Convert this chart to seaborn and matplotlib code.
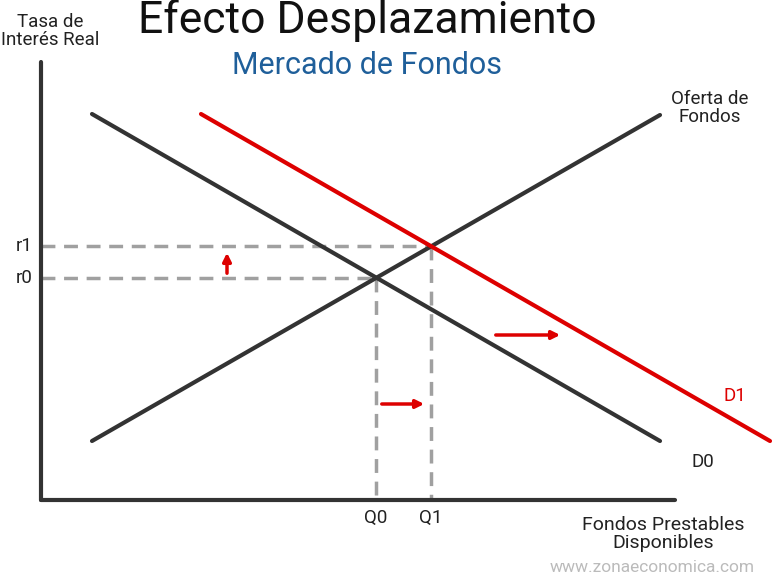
import numpy as np
import pandas as pd
import seaborn as sns
import matplotlib.pyplot as plt

sns.set_style("white")
plt.rcParams['font.family'] = ['Roboto', 'DejaVu Sans']

# curve endpoints (pixel-like diagram coordinates)
oferta_x = [92, 660]
oferta_y = [441, 115]
d0_x = [92, 660]
d0_y = [114, 441]
d1_x = [201, 770]
d1_y = [114, 441]

r_levels = [278, 246]      # r0, r1
r_labels = ['r0', 'r1']
q_levels = [376, 431]      # Q0, Q1
q_labels = ['Q0', 'Q1']

axis_origin = (41, 500)
axis_top = 62
axis_right = 675

df = pd.concat([
    pd.DataFrame({'x': oferta_x, 'y': oferta_y, 'curva': 'Oferta'}),
    pd.DataFrame({'x': d0_x, 'y': d0_y, 'curva': 'D0'}),
    pd.DataFrame({'x': d1_x, 'y': d1_y, 'curva': 'D1'}),
])

fig = plt.figure(figsize=(7.72, 5.75), dpi=100)
ax = fig.add_axes([0, 0, 1, 1])
ax.set_xlim(0, 772)
ax.set_ylim(575, 0)
ax.axis('off')

# dashed guides
gray = '#a0a0a0'
for r, q in zip(r_levels, q_levels):
    ax.plot([axis_origin[0], q], [r, r], ls='--', color=gray, lw=2.5, dashes=(4, 2.5))
    ax.plot([q, q], [r, axis_origin[1]], ls='--', color=gray, lw=2.5, dashes=(4, 2.5))

sns.lineplot(data=df, x='x', y='y', hue='curva', units='curva', estimator=None,
             palette={'Oferta': '#333333', 'D0': '#333333', 'D1': '#dd0000'},
             lw=3, legend=False, ax=ax, sort=False)

# axes
ax.plot([axis_origin[0], axis_origin[0]], [axis_top, axis_origin[1]], color='#333333', lw=3)
ax.plot([axis_origin[0], axis_right], [axis_origin[1], axis_origin[1]], color='#333333', lw=3)

# arrows
red = '#dd0000'
arrows = [((227, 276), (227, 250)), ((493, 335), (563, 335)), ((379, 404), (427, 404))]
for start, end in arrows:
    ax.annotate('', xy=end, xytext=start,
                arrowprops=dict(arrowstyle='-|>', color=red, lw=2.5, mutation_scale=12))

# labels
for r, lab in zip(r_levels, r_labels):
    ax.text(33, r, lab, ha='right', va='center', fontsize=13.5, color='#222222')
for q, lab in zip(q_levels, q_labels):
    ax.text(q, 518, lab, ha='center', va='center', fontsize=13.5, color='#222222')

ax.text(367, 21, 'Efecto Desplazamiento', ha='center', va='center', fontsize=32, color='#111111')
ax.text(367, 66, 'Mercado de Fondos', ha='center', va='center', fontsize=22, color='#1f5f9a')
ax.text(50, 31, 'Tasa de\nInterés Real', ha='center', va='center', fontsize=13.5,
        color='#222222', linespacing=1.0)
ax.text(710, 108, 'Oferta de\nFondos', ha='center', va='center', fontsize=13.5,
        color='#222222', linespacing=1.0)
ax.text(735, 396, 'D1', ha='center', va='center', fontsize=13.5, color=red)
ax.text(703, 462, 'D0', ha='center', va='center', fontsize=13.5, color='#222222')
ax.text(663, 534, 'Fondos Prestables\nDisponibles', ha='center', va='center', fontsize=14,
        color='#222222', linespacing=1.0)
ax.text(652, 567, 'www.zonaeconomica.com', ha='center', va='center', fontsize=12.5,
        color='#bbbbbb')

fig.savefig('out.png', dpi=100)
